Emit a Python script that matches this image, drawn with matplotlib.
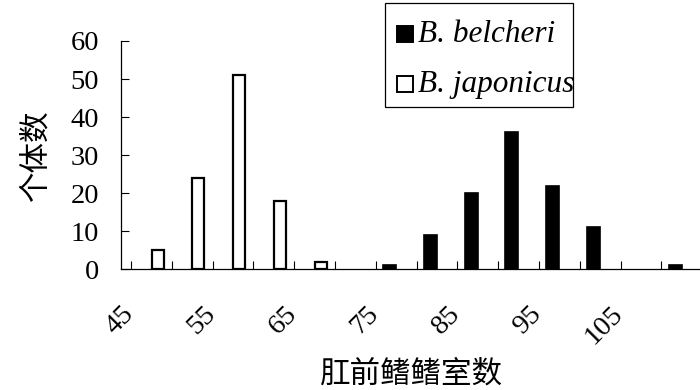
import numpy as np
import matplotlib
matplotlib.use('Agg')
import matplotlib.pyplot as plt
from matplotlib.lines import Line2D
from matplotlib.patches import Rectangle

# Dades llegides de la figura
categories = [45, 50, 55, 60, 65, 70, 75, 80, 85, 90, 95, 100, 105, 110]
belcheri   = [0, 0, 0, 0, 0, 0, 1, 9, 20, 36, 22, 11, 0, 1]
japonicus  = [5, 24, 51, 18, 2, 0, 0, 0, 0, 0, 0, 0, 0, 0]
yticks     = [0, 10, 20, 30, 40, 50, 60]
series     = ['B. belcheri', 'B. japonicus']

SERIF = ['Liberation Serif', 'DejaVu Serif']
CJK   = ['Noto Sans CJK SC', 'DejaVu Sans']
W, H  = 700, 390

fig = plt.figure(figsize=(7, 3.9), dpi=100)
ax  = fig.add_axes([0.1733, 0.3095, 0.8297, 0.5854])

x  = np.arange(len(categories))
b  = np.array(belcheri)
j  = np.array(japonicus)
ax.bar(x[b > 0] - 0.163, b[b > 0], width=0.32, color='black', edgecolor='black', linewidth=1.2)
ax.bar(x[j > 0] + 0.15, j[j > 0], width=0.295, color='white', edgecolor='black', linewidth=1.6)

ax.set_xlim(-0.5, len(categories) - 0.5)
ax.set_ylim(0, 60)

# marques a les fronteres de categoria (menors), etiquetes cada dues categories (majors)
bounds = np.arange(len(categories) + 1) - 0.5
ax.set_xticks(bounds, minor=True)
ax.set_xticks(x[::2] - 0.74)
ax.set_xticklabels([str(c) for c in categories[::2]], rotation=45, ha='right', va='top',
                   rotation_mode='anchor', family=SERIF, fontsize=20.5)
ax.tick_params(axis='x', which='major', length=0, pad=23)
ax.tick_params(axis='x', which='minor', direction='in', length=5.5, width=0.8)

ax.set_yticks(yticks)
ax.set_yticklabels([str(v) for v in yticks], family=SERIF, fontsize=20.5)
ax.tick_params(axis='y', direction='in', length=5.5, width=0.8, pad=16)

for s in ['top', 'right']:
    ax.spines[s].set_visible(False)
for s in ['left', 'bottom']:
    ax.spines[s].set_linewidth(0.9)
    ax.spines[s].set_color('black')

ax.set_ylabel('个体数', family=CJK, fontsize=22, ha='center', va='center')
ax.yaxis.set_label_coords(-0.1476, 0.5)
ax.set_xlabel('肛前鳍鳍室数', family=CJK, fontsize=22, ha='center', va='center')
ax.xaxis.set_label_coords(0.5, -0.46)

# llegenda dibuixada a mà (caixa ajustada com la d'Excel)
fig.patches.append(Rectangle((385 / W, 1 - 107.3 / H), (573.3 - 385) / W, (107.3 - 2.7) / H,
                             transform=fig.transFigure, facecolor='white',
                             edgecolor='black', linewidth=0.9))
faces = ['black', 'white']
for k, (name, fc) in enumerate(zip(series, faces)):
    yc = 34.2 + 50 * k
    fig.lines.append(Line2D([405 / W], [1 - yc / H], transform=fig.transFigure,
                            marker='s', linestyle='none', markersize=11.5,
                            markerfacecolor=fc, markeredgecolor='black', markeredgewidth=1.4))
    fig.text(418 / W, 1 - (yc + 7.5) / H, name, family=SERIF, style='italic',
             fontsize=22.5, ha='left', va='baseline')

fig.savefig('out.png', dpi=100)
